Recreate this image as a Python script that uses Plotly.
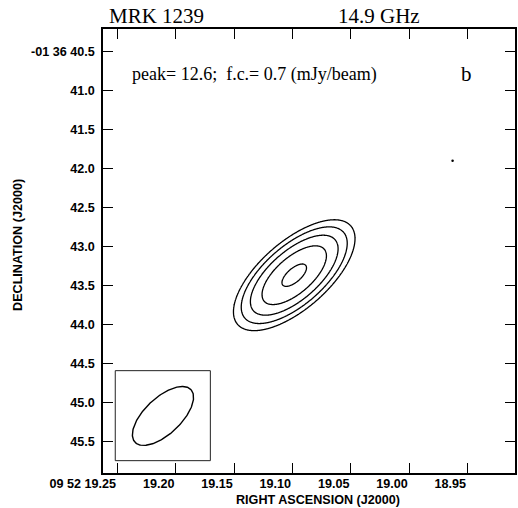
import numpy as np
import plotly.graph_objects as go

# --- MRK 1239, 14.9 GHz total-intensity map ---------------------------------
PEAK = 12.6            # mJy/beam
FIRST_CONTOUR = 0.7    # mJy/beam
contour_steps = [1, 2, 4, 8, 16]          # multiples of the first contour

# fitted source component (RA seconds of 09 52, Dec arcsec of -01 36)
src_ra = 19.0985
src_dec = 43.367
src_fwhm_maj = 0.943   # arcsec
src_fwhm_min = 0.424   # arcsec
src_pa = -49.1         # deg, east of north

# restoring beam (FWHM) drawn in the lower-left box
beam_ra = 19.2110
beam_dec = 45.170
beam_fwhm_maj = 0.986
beam_fwhm_min = 0.466
beam_pa = -46.8
beam_box_ra = [19.2519, 19.1704]
beam_box_dec = [44.590, 45.743]

# isolated single-pixel feature above the first contour
spot_ra = [18.9628]
spot_dec = [41.90]

ra_ticks = [19.25, 19.20, 19.15, 19.10, 19.05, 19.00, 18.95]
ra_labels = ["09 52 19.25", "19.20", "19.15", "19.10", "19.05", "19.00", "18.95"]
dec_ticks = [40.5, 41.0, 41.5, 42.0, 42.5, 43.0, 43.5, 44.0, 44.5, 45.0, 45.5]
dec_labels = ["-01 36 40.5", "41.0", "41.5", "42.0", "42.5", "43.0",
              "43.5", "44.0", "44.5", "45.0", "45.5"]
ra_range = [19.2624, 18.9093]
dec_range = [45.901, 40.213]

COS_DEC = np.cos(np.radians(1 + 36 / 60))


def gaussian_map(ra, dec):
    u = (ra - src_ra) * 15.0 * COS_DEC          # east offset, arcsec
    v = -(dec - src_dec)                        # north offset, arcsec
    pa = np.radians(src_pa)
    p = u * np.sin(pa) + v * np.cos(pa)
    q = u * np.cos(pa) - v * np.sin(pa)
    k = 4 * np.log(2)
    return PEAK * np.exp(-k * (p ** 2 / src_fwhm_maj ** 2 + q ** 2 / src_fwhm_min ** 2))


grid_ra = np.linspace(19.18, 19.015, 330)
grid_dec = np.linspace(42.40, 44.35, 330)
RA, DEC = np.meshgrid(grid_ra, grid_dec)
flux = gaussian_map(RA, DEC)
# contour levels are FIRST_CONTOUR * 2**n  ->  integer steps in log2 space
zlog = np.log2(np.maximum(flux, 1e-6) / FIRST_CONTOUR)
zlog = np.round(np.clip(zlog, -3, 6), 4)
n_levels = int(np.log2(contour_steps[-1]))

# beam ellipse outline
t = np.linspace(0, 2 * np.pi, 240)
bpa = np.radians(beam_pa)
bp = 0.5 * beam_fwhm_maj * np.cos(t)
bq = 0.5 * beam_fwhm_min * np.sin(t)
bu = bp * np.sin(bpa) + bq * np.cos(bpa)
bv = bp * np.cos(bpa) - bq * np.sin(bpa)
beam_x = beam_ra + bu / (15.0 * COS_DEC)
beam_y = beam_dec - bv

fig = go.Figure()
fig.add_trace(go.Contour(
    x=grid_ra, y=grid_dec, z=zlog,
    contours=dict(start=0, end=n_levels, size=1, coloring="lines"),
    colorscale=[[0, "black"], [1, "black"]],
    line=dict(width=1.3, color="black"),
    showscale=False, hoverinfo="skip",
))
fig.add_trace(go.Scatter(
    x=spot_ra, y=spot_dec, mode="markers",
    marker=dict(size=2.5, color="black"), hoverinfo="skip",
))
fig.add_trace(go.Scatter(
    x=beam_x, y=beam_y, mode="lines",
    line=dict(color="black", width=1.4), hoverinfo="skip",
))

fig.add_shape(type="rect", xref="x", yref="y",
              x0=beam_box_ra[0], x1=beam_box_ra[1],
              y0=beam_box_dec[0], y1=beam_box_dec[1],
              line=dict(color="#222", width=1), fillcolor="white", layer="below")

tick_font = dict(family="Liberation Sans, Arial", size=12.6, color="black", weight="bold")
axis_common = dict(
    showgrid=False, zeroline=False, showline=True, linecolor="black", linewidth=1.5,
    mirror="ticks", ticks="inside", ticklen=10, tickwidth=1.3, tickcolor="black",
    tickfont=tick_font,
)
fig.update_xaxes(range=ra_range, tickvals=ra_ticks, ticktext=ra_labels,
                 ticklabelposition="outside left", ticklabelstandoff=-2,
                 **axis_common)
fig.update_yaxes(range=dec_range, tickvals=dec_ticks, ticktext=dec_labels,
                 ticklabelstandoff=4, **axis_common)

serif = "Liberation Serif, Times New Roman, serif"
ann = [
    dict(text="MRK 1239", x=0.0097, y=1.0297, xanchor="left", yanchor="middle",
         font=dict(family=serif, size=21, color="black")),
    dict(text="14.9 GHz", x=0.565, y=1.0297, xanchor="left", yanchor="middle",
         font=dict(family=serif, size=21, color="black")),
    dict(text="peak= 12.6;&nbsp; f.c.= 0.7 (mJy/beam)", x=0.0652, y=0.8986,
         xanchor="left", yanchor="middle",
         font=dict(family=serif, size=18, color="black")),
    dict(text="b", x=0.8816, y=0.8986, xanchor="center", yanchor="middle",
         font=dict(family=serif, size=21, color="black")),
    dict(text="RIGHT ASCENSION (J2000)", x=0.523, y=-0.0608, xanchor="center",
         yanchor="middle", font=dict(family="Liberation Sans, Arial", size=12.6,
                                     color="black", weight="bold")),
    dict(text="DECLINATION (J2000)", x=-0.2065, y=0.5135, xanchor="center",
         yanchor="middle", textangle=-90,
         font=dict(family="Liberation Sans, Arial", size=12.6, color="black",
                   weight="bold")),
]
for a in ann:
    a.update(xref="paper", yref="paper", showarrow=False)
fig.update_layout(
    width=518, height=508,
    margin=dict(l=103, r=1, t=29, b=35),
    paper_bgcolor="white", plot_bgcolor="white",
    showlegend=False, annotations=ann,
)

fig.write_html("out.html")
